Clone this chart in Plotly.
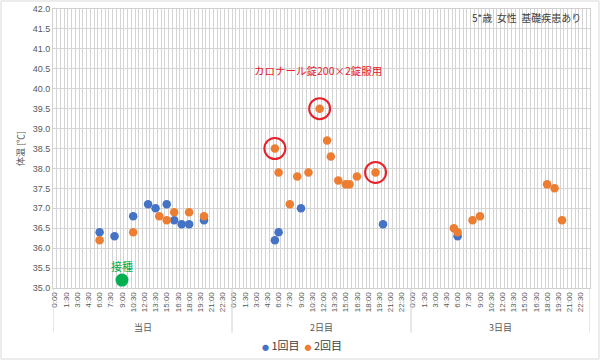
import plotly.graph_objects as go

# ---- data ----
s1_day  = [1,1,1,1,1,1,1,1,1,1, 2,2,2,2, 3]
s1_time = ["6:00","8:00","10:30","12:30","13:30","15:00","16:00","17:00","18:00","20:00",
           "5:30","6:00","9:00","20:00", "6:00"]
s1_temp = [36.4,36.3,36.8,37.1,37.0,37.1,36.7,36.6,36.6,36.7,
           36.2,36.4,37.0,36.6, 36.3]

s2_day  = [1,1,1,1,1,1,1, 2,2,2,2,2,2,2,2,2,2,2,2,2, 3,3,3,3,3,3,3]
s2_time = ["6:00","10:30","14:00","15:00","16:00","18:00","20:00",
           "5:30","6:00","7:30","8:30","10:00","11:30","12:30","13:00","14:00","15:00","15:30","16:30","19:00",
           "5:30","6:00","8:00","9:00","18:00","19:00","20:00"]
s2_temp = [36.2,36.4,36.8,36.7,36.9,36.9,36.8,
           38.5,37.9,37.1,37.8,37.9,39.5,38.7,38.3,37.7,37.6,37.6,37.8,37.9,
           36.5,36.4,36.7,36.8,37.6,37.5,36.7]

circ_day  = [2,2,2]
circ_time = ["5:30","11:30","19:00"]
circ_temp = [38.5,39.5,37.9]

vacc_day, vacc_time, vacc_temp = [1], ["9:00"], [35.2]

day_labels = ["当日", "2日目", "3日目"]
tick_labels = ["0:00","1:30","3:00","4:30","6:00","7:30","9:00","10:30",
               "12:00","13:30","15:00","16:30","18:00","19:30","21:00","22:30"]

def to_h(days, times):
    out = []
    for d, t in zip(days, times):
        hh, mm = t.split(":")
        out.append((d - 1) * 24 + int(hh) + int(mm) / 60)
    return out

BLUE, ORANGE, GREEN, RED = "#4472C4", "#ED7D31", "#00B050", "#E8202A"
FONT = "Noto Sans CJK JP"
NUMFONT = "Liberation Sans"

fig = go.Figure()
fig.add_trace(go.Scatter(x=to_h(s1_day, s1_time), y=s1_temp, mode="markers", name="1回目",
                         marker=dict(color=BLUE, size=8.5)))
fig.add_trace(go.Scatter(x=to_h(s2_day, s2_time), y=s2_temp, mode="markers", name="2回目",
                         marker=dict(color=ORANGE, size=8.5)))
fig.add_trace(go.Scatter(x=to_h(circ_day, circ_time), y=circ_temp, mode="markers", showlegend=False,
                         marker=dict(symbol="circle-open", color=RED, size=21, line=dict(width=2, color=RED)),
                         hoverinfo="skip"))
fig.add_trace(go.Scatter(x=to_h(vacc_day, vacc_time), y=vacc_temp, mode="markers", showlegend=False,
                         marker=dict(color=GREEN, size=13), cliponaxis=False))

ndays = len(day_labels)
tickvals, ticktext = [], []
for d in range(ndays):
    for lab in tick_labels:
        hh, mm = lab.split(":")
        tickvals.append(d * 24 + int(hh) + int(mm) / 60)
        ticktext.append(lab)

x0, x1 = -0.25, ndays * 24 - 0.25
ML, MR, MT, MB = 53, 10, 9, 72
W, H = 600, 360
pw, ph = W - ML - MR, H - MT - MB

fig.update_layout(
    width=W, height=H, margin=dict(l=ML, r=MR, t=MT, b=MB),
    paper_bgcolor="white", plot_bgcolor="white",
    font=dict(family=FONT, size=9, color="#595959"),
    showlegend=False,
    xaxis=dict(range=[x0, x1], tickmode="array", tickvals=tickvals, ticktext=ticktext,
               tickangle=-90, showgrid=False, zeroline=False, ticks="", automargin=False,
               tickfont=dict(family=NUMFONT, size=8, color="#595959"),
               showline=True, linecolor="#d0d0d0", mirror=True,
               minor=dict(tick0=x0, dtick=0.5, showgrid=True, gridcolor="#d4d4d4", gridwidth=1, ticks="")),
    yaxis=dict(range=[35.0, 42.0], dtick=0.5, tickformat=".1f", showgrid=True, gridcolor="#d4d4d4",
               zeroline=False, ticks="", showline=True, linecolor="#d0d0d0", mirror=True, automargin=False,
               tickfont=dict(family=NUMFONT, size=9, color="#595959"),
               title=dict(text="体温 [℃]", font=dict(size=9, color="#595959"), standoff=6)),
)

# day separators below the axis and day group labels
for d in range(ndays + 1):
    fig.add_shape(type="line", xref="x", yref="paper", x0=d * 24 - 0.25, x1=d * 24 - 0.25,
                  y0=-0.16, y1=0, line=dict(color="#d0d0d0", width=1))
for d, lab in enumerate(day_labels):
    fig.add_annotation(x=d * 24 + 11.75, y=-0.143, xref="x", yref="paper", yanchor="middle", text=lab,
                       showarrow=False, font=dict(size=9, color="#595959"))

# legend (1回目 / 2回目)
fig.add_annotation(x=0.464, y=-0.205, xref="paper", yref="paper", xanchor="center", yanchor="middle",
                   showarrow=False, font=dict(size=11, color="#404040"),
                   text=(f'<span style="color:{BLUE};font-size:7px">●</span> 1回目  '
                         f'<span style="color:{ORANGE};font-size:7px">●</span> 2回目'))

# outer chart border
fig.add_shape(type="rect", xref="paper", yref="paper",
              x0=(-ML + 1) / pw, x1=(pw + MR - 1) / pw, y0=(-MB + 1) / ph, y1=(ph + MT - 1) / ph,
              line=dict(color="#d9d9d9", width=1))

fig.add_annotation(x=0.987, y=0.969, xref="paper", yref="paper", xanchor="right", yanchor="middle",
                   text="5*歳  女性  基礎疾患あり", showarrow=False, font=dict(size=10, color="#404040"))
fig.add_annotation(x=24 + 11.3, y=40.45, xref="x", yref="y", text="カロナール錠200×2錠服用",
                   showarrow=False, font=dict(size=10.5, color=RED))
fig.add_annotation(x=to_h(vacc_day, vacc_time)[0], y=vacc_temp[0], xref="x", yref="y", yshift=14,
                   text="接種", showarrow=False, font=dict(size=11, color=GREEN))

fig.write_html("out.html", config={"displayModeBar": False},
               post_script="document.body.style.margin='0';")
